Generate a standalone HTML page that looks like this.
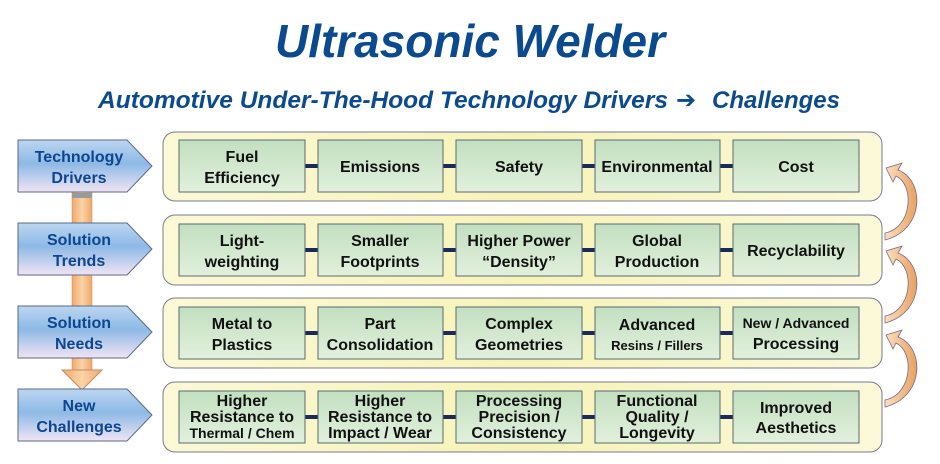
<!DOCTYPE html>
<html><head><meta charset="utf-8"><style>body{margin:0;background:#fff}svg{display:block}</style></head>
<body>
<svg width="940" height="464" viewBox="0 0 940 464" xmlns="http://www.w3.org/2000/svg" font-family="Liberation Sans, sans-serif">
<defs>
<linearGradient id="blue" x1="0" y1="0" x2="0" y2="1"><stop offset="0" stop-color="#bcd6f0"/><stop offset="0.45" stop-color="#8db9e6"/><stop offset="1" stop-color="#f1e4f3"/></linearGradient>
<linearGradient id="green" x1="0" y1="0" x2="0" y2="1"><stop offset="0" stop-color="#c2dfc0"/><stop offset="1" stop-color="#e2f0dc"/></linearGradient>
<linearGradient id="yel" x1="0" y1="0" x2="1" y2="0"><stop offset="0" stop-color="#fbf9d6"/><stop offset="0.5" stop-color="#f6f3b8"/><stop offset="1" stop-color="#fbf9d9"/></linearGradient>
<linearGradient id="orange" x1="0" y1="0" x2="1" y2="0"><stop offset="0" stop-color="#f0a868"/><stop offset="0.5" stop-color="#fbd4a8"/><stop offset="1" stop-color="#f0a868"/></linearGradient>
<linearGradient id="arc" x1="0" y1="0" x2="1" y2="0"><stop offset="0" stop-color="#fbe0c0"/><stop offset="1" stop-color="#e8a060"/></linearGradient>
</defs>
<text x="470" y="57" text-anchor="middle" font-size="46" font-weight="bold" font-style="italic" fill="#0b4a8f" textLength="390" lengthAdjust="spacingAndGlyphs">Ultrasonic Welder</text>
<text x="98" y="108" font-size="24" font-weight="bold" font-style="italic" fill="#0b4a8f" textLength="570" lengthAdjust="spacingAndGlyphs">Automotive Under-The-Hood Technology Drivers</text>
<text x="676" y="108" font-size="24" font-weight="bold" fill="#0b4a8f" font-family="DejaVu Sans, sans-serif">➔</text>
<text x="712" y="108" font-size="24" font-weight="bold" font-style="italic" fill="#0b4a8f" textLength="128" lengthAdjust="spacingAndGlyphs">Challenges</text>

<rect x="72" y="192" width="20" height="178" fill="url(#orange)" stroke="#c88a60" stroke-width="0.5"/>
<rect x="72" y="193" width="20" height="5" fill="#9a9a9a"/>
<polygon points="62,370 102,370 82,390" fill="url(#orange)" stroke="#c88a60"/>

<g stroke="#5a6a8a" stroke-width="1">
<polygon points="18,140 127,140 152,166 127,192 18,192" fill="url(#blue)"/>
<polygon points="18,223 127,223 152,249 127,275 18,275" fill="url(#blue)"/>
<polygon points="18,306 127,306 152,332 127,358 18,358" fill="url(#blue)"/>
<polygon points="18,389 127,389 152,415 127,441 18,441" fill="url(#blue)"/>
</g>
<g font-size="16" font-weight="bold" fill="#0d4690" text-anchor="middle">
<text x="79" y="162">Technology</text><text x="79" y="183">Drivers</text>
<text x="79" y="245">Solution</text><text x="79" y="266">Trends</text>
<text x="79" y="328">Solution</text><text x="79" y="349">Needs</text>
<text x="79" y="411">New</text><text x="79" y="432">Challenges</text>
</g>

<g stroke="#7a7a90" stroke-width="1" fill="url(#yel)">
<rect x="163" y="132" width="719" height="69" rx="12"/>
<rect x="163" y="215" width="719" height="70" rx="12"/>
<rect x="163" y="298" width="719" height="70" rx="12"/>
<rect x="163" y="382" width="719" height="70" rx="12"/>
</g>

<g fill="#1c2a5a">
<rect x="305" y="164" width="13" height="4"/><rect x="443" y="164" width="13" height="4"/><rect x="582" y="164" width="13" height="4"/><rect x="720" y="164" width="13" height="4"/>
<rect x="305" y="248" width="13" height="4"/><rect x="443" y="248" width="13" height="4"/><rect x="582" y="248" width="13" height="4"/><rect x="720" y="248" width="13" height="4"/>
<rect x="305" y="331" width="13" height="4"/><rect x="443" y="331" width="13" height="4"/><rect x="582" y="331" width="13" height="4"/><rect x="720" y="331" width="13" height="4"/>
<rect x="305" y="415" width="13" height="4"/><rect x="443" y="415" width="13" height="4"/><rect x="582" y="415" width="13" height="4"/><rect x="720" y="415" width="13" height="4"/>
</g>
<g stroke="#5a6a70" stroke-width="1" fill="url(#green)">
<rect x="179" y="140" width="126" height="52"/><rect x="318" y="140" width="125" height="52"/><rect x="456" y="140" width="126" height="52"/><rect x="595" y="140" width="125" height="52"/><rect x="733" y="140" width="126" height="52"/>
<rect x="179" y="224" width="126" height="52"/><rect x="318" y="224" width="125" height="52"/><rect x="456" y="224" width="126" height="52"/><rect x="595" y="224" width="125" height="52"/><rect x="733" y="224" width="126" height="52"/>
<rect x="179" y="307" width="126" height="52"/><rect x="318" y="307" width="125" height="52"/><rect x="456" y="307" width="126" height="52"/><rect x="595" y="307" width="125" height="52"/><rect x="733" y="307" width="126" height="52"/>
<rect x="179" y="391" width="126" height="52"/><rect x="318" y="391" width="125" height="52"/><rect x="456" y="391" width="126" height="52"/><rect x="595" y="391" width="125" height="52"/><rect x="733" y="391" width="126" height="52"/>
</g>
<g font-size="16" font-weight="bold" fill="#111" text-anchor="middle">
<text x="242" y="162">Fuel</text><text x="242" y="183">Efficiency</text>
<text x="380" y="172">Emissions</text>
<text x="519" y="172">Safety</text>
<text x="657" y="172">Environmental</text>
<text x="796" y="172">Cost</text>

<text x="242" y="246">Light-</text><text x="242" y="267">weighting</text>
<text x="380" y="246">Smaller</text><text x="380" y="267">Footprints</text>
<text x="519" y="246">Higher Power</text><text x="519" y="267">“Density”</text>
<text x="657" y="246">Global</text><text x="657" y="267">Production</text>
<text x="796" y="256">Recyclability</text>

<text x="242" y="329">Metal to</text><text x="242" y="350">Plastics</text>
<text x="380" y="329">Part</text><text x="380" y="350">Consolidation</text>
<text x="519" y="329">Complex</text><text x="519" y="350">Geometries</text>
<text x="657" y="330">Advanced</text><text x="657" y="350" font-size="13">Resins / Fillers</text>
<text x="796" y="328" font-size="14">New / Advanced</text><text x="796" y="349">Processing</text>

<text x="242" y="406">Higher</text><text x="242" y="422">Resistance to</text><text x="242" y="438" font-size="14">Thermal / Chem</text>
<text x="380" y="406">Higher</text><text x="380" y="422">Resistance to</text><text x="380" y="438">Impact / Wear</text>
<text x="519" y="406">Processing</text><text x="519" y="422">Precision /</text><text x="519" y="438">Consistency</text>
<text x="657" y="406">Functional</text><text x="657" y="422">Quality /</text><text x="657" y="438">Longevity</text>
<text x="796" y="413">Improved</text><text x="796" y="433">Aesthetics</text>
</g>

<g stroke="#7a6a8a" stroke-width="0.8" fill="url(#arc)">
<path d="M885,240 C925,230 925,180 898,170 L902,163 L886,168 L893,182 L896,176 C915,185 912,228 885,233 Z"/>
<path d="M885,323 C925,313 925,263 898,253 L902,246 L886,251 L893,265 L896,259 C915,268 912,311 885,316 Z"/>
<path d="M885,407 C925,397 925,347 898,337 L902,330 L886,335 L893,349 L896,343 C915,352 912,395 885,400 Z"/>
</g>
</svg>
</body></html>
